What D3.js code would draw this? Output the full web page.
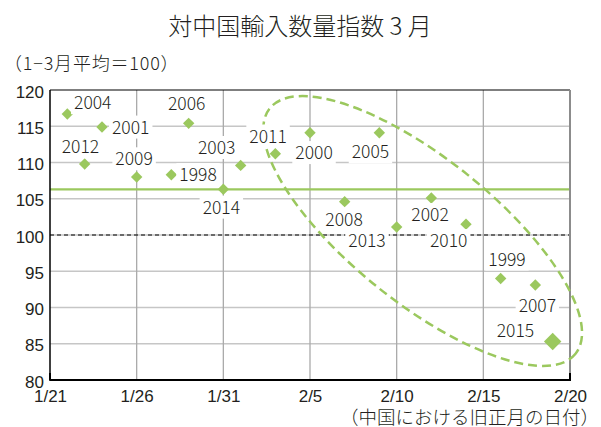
<!DOCTYPE html>
<html>
<head>
<meta charset="utf-8">
<script src="https://cdn.jsdelivr.net/npm/d3@7"></script>
<style>
  body { margin: 0; background: #ffffff; }
  svg { display: block; font-family: "Noto Sans CJK JP", "Noto Sans", sans-serif; font-weight: 300; }
</style>
</head>
<body>
<svg id="chart" width="601" height="427"></svg>
<script>
// Chinese New Year date of each year and the March import volume index from China
const years = [2004, 2001, 2012, 2009, 1998, 2006, 2014, 2003, 2011,
               2000, 2005, 2008, 2002, 2013, 2010, 1999, 2007, 2015];
const newYearDates = ["1/22", "1/24", "1/23", "1/26", "1/28", "1/29", "1/31", "2/1", "2/3",
                      "2/5", "2/9", "2/7", "2/12", "2/10", "2/14", "2/16", "2/18", "2/19"];
const marchIndex = [116.7, 114.9, 109.8, 108.0, 108.3, 115.4, 106.3, 109.6, 111.2,
                    114.1, 114.1, 104.6, 105.1, 101.1, 101.5, 94.0, 93.1, 85.3];
const highlightYear = 2015;

const xTickLabels = ["1/21", "1/26", "1/31", "2/5", "2/10", "2/15", "2/20"];
const yTickValues = [80, 85, 90, 95, 100, 105, 110, 115, 120];
const baseLevel = 100;

const titleText = "対中国輸入数量指数 3 月";
const unitText = "（1−3月平均＝100）";
const xTitleText = "（中国における旧正月の日付）";

// Where each year label sits relative to its marker (px)
const labelOffsets = {
  2004: [6.7, -4.7], 2001: [10, 6.6], 2012: [-23, -10.7], 2009: [-21.3, -11.7],
  1998: [8, 6.3], 2006: [-20.7, -13], 2014: [-20.7, 24.3], 2003: [-42.7, -11.4],
  2011: [-26, -11.3], 2000: [-14.7, 26.3], 2005: [-27.6, 25.6], 2008: [-19.3, 24],
  2002: [-20, 23], 2013: [-48.4, 20.3], 2010: [-36, 23], 1999: [-12.4, -13],
  2007: [-16.7, 26.7], 2015: [-56, -5]
};

const green = "#9bc85e";
const textColor = "#231f20";

const parseDay = d3.timeParse("%m/%d");
const points = years.map((yr, i) => ({
  year: yr,
  date: parseDay(newYearDates[i]),
  value: marchIndex[i]
}));

const plot = { left: 50, right: 570, top: 90, bottom: 380 };
const svg = d3.select("#chart");

const x = d3.scaleTime()
  .domain([parseDay(xTickLabels[0]), parseDay(xTickLabels[xTickLabels.length - 1])])
  .range([plot.left, plot.right]);
const y = d3.scaleLinear()
  .domain([yTickValues[0], yTickValues[yTickValues.length - 1]])
  .range([plot.bottom, plot.top]);

const xTicks = xTickLabels.map(parseDay);

// Title and unit note
svg.append("text")
  .attr("x", 300).attr("y", 35)
  .attr("text-anchor", "middle")
  .attr("font-size", 24)
  .attr("fill", textColor)
  .text(titleText);

svg.append("text")
  .attr("x", 4).attr("y", 70)
  .attr("font-size", 18)
  .attr("letter-spacing", 0.8)
  .attr("fill", textColor)
  .text(unitText);

// Grid
const grid = svg.append("g");
grid.selectAll("line.h")
  .data(yTickValues.slice(1, -1))
  .join("line")
  .attr("x1", plot.left).attr("x2", plot.right)
  .attr("y1", d => y(d)).attr("y2", d => y(d))
  .attr("stroke", "#c6c6c6").attr("stroke-width", 1.5);
grid.selectAll("line.v")
  .data(xTicks.slice(1, -1))
  .join("line")
  .attr("x1", d => x(d)).attr("x2", d => x(d))
  .attr("y1", plot.top).attr("y2", plot.bottom)
  .attr("stroke", "#aaaaaa").attr("stroke-width", 1.3);

// Reference level 100
svg.append("line")
  .attr("x1", plot.left).attr("x2", plot.right)
  .attr("y1", y(baseLevel)).attr("y2", y(baseLevel))
  .attr("stroke", "#000").attr("stroke-width", 1.2)
  .attr("stroke-dasharray", "4,3");

// Average of all years
const avg = d3.mean(marchIndex);
svg.append("line")
  .attr("x1", plot.left).attr("x2", plot.right)
  .attr("y1", y(avg)).attr("y2", y(avg))
  .attr("stroke", green).attr("stroke-width", 2.2);

// Plot frame
svg.append("line").attr("x1", plot.left).attr("x2", plot.right)
  .attr("y1", plot.top).attr("y2", plot.top)
  .attr("stroke", "#000").attr("stroke-width", 1.2);
svg.append("line").attr("x1", plot.right).attr("x2", plot.right)
  .attr("y1", plot.top).attr("y2", plot.bottom)
  .attr("stroke", "#8c8c8c").attr("stroke-width", 2);
svg.append("line").attr("x1", plot.left).attr("x2", plot.left)
  .attr("y1", plot.top).attr("y2", plot.bottom)
  .attr("stroke", "#000").attr("stroke-width", 1.5);
svg.append("line").attr("x1", plot.left - 0.75).attr("x2", plot.right + 1)
  .attr("y1", plot.bottom).attr("y2", plot.bottom)
  .attr("stroke", "#000").attr("stroke-width", 1.8);
// end ticks of the date axis
[plot.left, plot.right].forEach(px => {
  svg.append("line").attr("x1", px).attr("x2", px)
    .attr("y1", plot.bottom - 7).attr("y2", plot.bottom)
    .attr("stroke", "#000").attr("stroke-width", 2);
});

// Axes labels
const yAxis = svg.append("g")
  .attr("transform", `translate(${plot.left},0)`)
  .call(d3.axisLeft(y).tickValues(yTickValues).tickSize(0).tickPadding(6));
yAxis.select(".domain").remove();
yAxis.selectAll("text")
  .attr("dy", 7)
  .attr("font-size", 17)
  .attr("font-family", null)
  .attr("fill", textColor);

const xAxis = svg.append("g")
  .attr("transform", `translate(0,${plot.bottom})`)
  .call(d3.axisBottom(x).tickValues(xTicks)
    .tickFormat(d3.timeFormat("%-m/%-d")).tickSize(0).tickPadding(9.5));
xAxis.select(".domain").remove();
xAxis.selectAll("text")
  .attr("font-size", 17)
  .attr("font-family", null)
  .attr("fill", textColor);

svg.append("text")
  .attr("x", 599).attr("y", 423.5)
  .attr("text-anchor", "end")
  .attr("font-size", 18.5)
  .attr("fill", textColor)
  .text(xTitleText);

// Ring around the late-New-Year group
const ringCx = (x(parseDay("2/11")) + x(parseDay("2/12"))) / 2;
const ringCy = y(100.55);
svg.append("ellipse")
  .attr("cx", 0).attr("cy", 0)
  .attr("rx", 196).attr("ry", 72)
  .attr("transform", `translate(${ringCx},${ringCy}) rotate(38.75)`)
  .attr("fill", "none")
  .attr("stroke", green).attr("stroke-width", 2.5)
  .attr("stroke-dasharray", "9,5");

// Markers
const diamond = size => d3.symbol().type(d3.symbolSquare).size(size)();
svg.append("g").selectAll("path")
  .data(points)
  .join("path")
  .attr("d", d => diamond(d.year === highlightYear ? 152 : 65))
  .attr("transform", d => `translate(${x(d.date)},${y(d.value)}) rotate(45)`)
  .attr("fill", green);

// Year labels on white plates
const labels = svg.append("g").selectAll("g")
  .data(points)
  .join("g")
  .attr("transform", d => {
    const o = labelOffsets[d.year];
    return `translate(${x(d.date) + o[0]},${y(d.value) + o[1]})`;
  });
labels.append("text")
  .attr("font-size", 17.5)
  .attr("fill", textColor)
  .text(d => d.year);
labels.each(function () {
  const g = d3.select(this);
  const bb = g.select("text").node().getBBox();
  g.insert("rect", "text")
    .attr("x", bb.x - 3).attr("y", -18)
    .attr("width", bb.width + 6).attr("height", 23)
    .attr("fill", "#fff");
});
</script>
</body>
</html>
